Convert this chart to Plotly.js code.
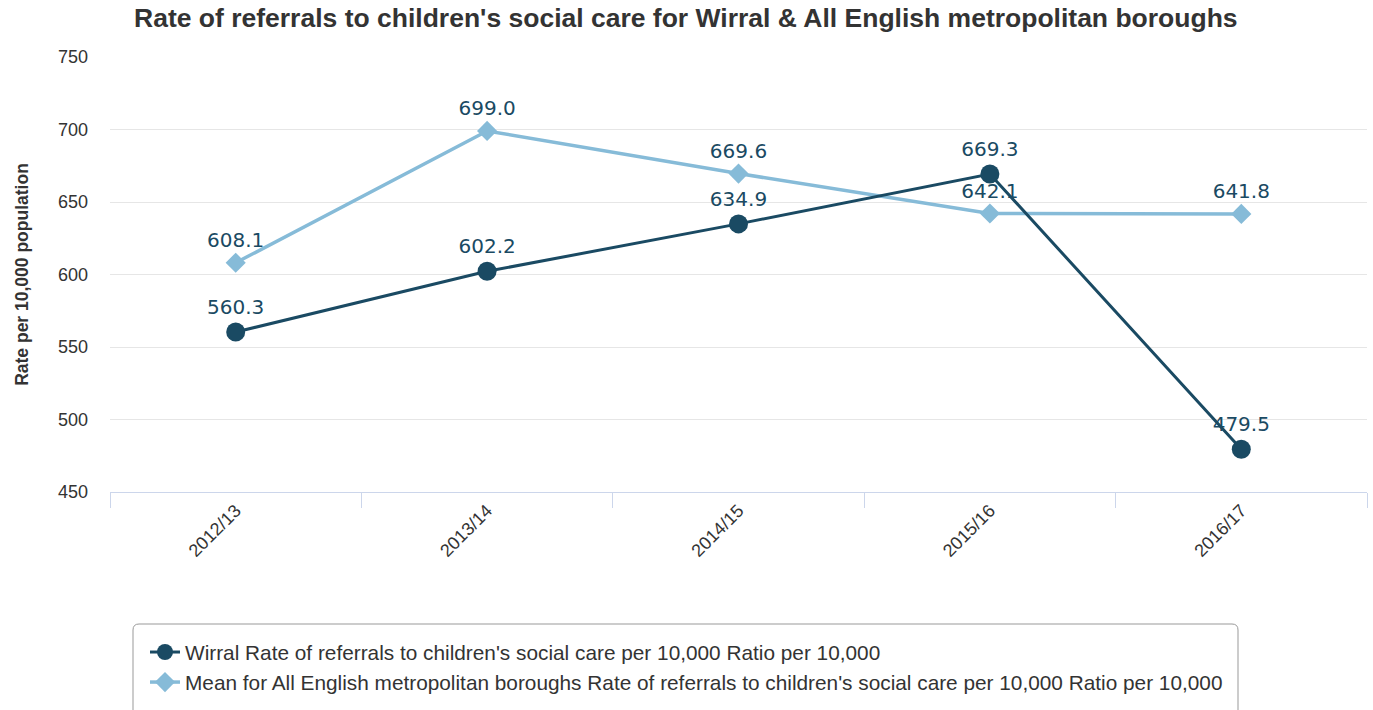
<!DOCTYPE html>
<html>
<head>
<meta charset="utf-8">
<script src="https://cdn.plot.ly/plotly-3.0.1.min.js"></script>
<style>html,body{margin:0;padding:0;background:#fff;}#chart{width:1373px;height:710px;}</style>
</head>
<body>
<div id="chart"></div>
<script>
var categories = ["2012/13", "2013/14", "2014/15", "2015/16", "2016/17"];
var wirralValues = [560.3, 602.2, 634.9, 669.3, 479.5];
var meanValues = [608.1, 699.0, 669.6, 642.1, 641.8];
var wirralName = "Wirral Rate of referrals to children's social care per 10,000 Ratio per 10,000";
var meanName = "Mean for All English metropolitan boroughs Rate of referrals to children's social care per 10,000 Ratio per 10,000";
var yTickVals = [450, 500, 550, 600, 650, 700, 750];

var W = 1373, H = 710;
var M = {l: 110, r: 6, t: 57, b: 218};
var plotW = W - M.l - M.r, plotH = H - M.t - M.b;
function px2x(px) { return (px - M.l) / plotW; }
function py2y(py) { return (H - M.b - py) / plotH; }

// rounded legend frame (pixel geometry converted to paper coords)
function roundedBox(l, t, r, b, rad) {
  var p = [];
  p.push("M" + px2x(l + rad) + "," + py2y(t));
  p.push("L" + px2x(r - rad) + "," + py2y(t));
  p.push("Q" + px2x(r) + "," + py2y(t) + " " + px2x(r) + "," + py2y(t + rad));
  p.push("L" + px2x(r) + "," + py2y(b - rad));
  p.push("Q" + px2x(r) + "," + py2y(b) + " " + px2x(r - rad) + "," + py2y(b));
  p.push("L" + px2x(l + rad) + "," + py2y(b));
  p.push("Q" + px2x(l) + "," + py2y(b) + " " + px2x(l) + "," + py2y(b - rad));
  p.push("L" + px2x(l) + "," + py2y(t + rad));
  p.push("Q" + px2x(l) + "," + py2y(t) + " " + px2x(l + rad) + "," + py2y(t));
  p.push("Z");
  return p.join(" ");
}

var labelFont = {family: "DejaVu Sans, Verdana, sans-serif", size: 20, color: "#1a4a63"};

var traces = [
  {
    x: categories, y: meanValues, name: meanName, type: "scatter", mode: "lines+markers+text",
    line: {color: "#86bbd8", width: 3.5},
    marker: {symbol: "diamond", size: 15.5, color: "#86bbd8"},
    text: meanValues.map(function(v){return v.toFixed(1);}),
    textposition: "top center", textfont: labelFont, cliponaxis: false, hoverinfo: "x+y"
  },
  {
    x: categories, y: wirralValues, name: wirralName, type: "scatter", mode: "lines+markers+text",
    line: {color: "#1a4a63", width: 3},
    marker: {symbol: "circle", size: 19, color: "#1a4a63"},
    text: wirralValues.map(function(v){return v.toFixed(1);}),
    textposition: "top center", textfont: labelFont, cliponaxis: false, hoverinfo: "x+y"
  }
];

var layout = {
  width: W, height: H,
  margin: M,
  paper_bgcolor: "#fff", plot_bgcolor: "#fff",
  title: {text: "<b>Rate of referrals to children's social care for Wirral &amp; All English metropolitan boroughs</b>",
          font: {family: "Liberation Sans, Arial, sans-serif", size: 26.5, color: "#333333"},
          x: 0.4995, xanchor: "center", xref: "container", y: 0.975, yanchor: "middle"},
  xaxis: {
    type: "category", range: [-0.5, 4.5], tickson: "boundaries",
    ticks: "outside", ticklen: 15, tickcolor: "#ccd6eb", tickwidth: 1,
    showline: true, linecolor: "#ccd6eb", linewidth: 1,
    showgrid: false, zeroline: false, tickangle: -45,
    tickfont: {family: "Liberation Sans, Arial, sans-serif", size: 18, color: "#333333"}
  },
  yaxis: {
    range: [450, 750], tickvals: yTickVals, showgrid: true, gridcolor: "#e6e6e6", gridwidth: 1,
    zeroline: false, showline: false, ticks: "", ticklabelstandoff: 21,
    tickfont: {family: "Liberation Sans, Arial, sans-serif", size: 18, color: "#333333"},
    title: {text: "<b>Rate per 10,000 population</b>", standoff: 24,
            font: {family: "Liberation Sans, Arial, sans-serif", size: 17.5, color: "#333333"}}
  },
  shapes: [
    {type: "path", xref: "paper", yref: "paper", path: roundedBox(133, 624, 1238, 716, 6),
     line: {color: "#999999", width: 1}, fillcolor: "rgba(0,0,0,0)", layer: "below"}
  ],
  showlegend: true,
  legend: {
    traceorder: "reversed",
    x: px2x(145), xanchor: "left", y: py2y(632), yanchor: "top",
    borderwidth: 0, bgcolor: "rgba(0,0,0,0)",
    font: {family: "Liberation Sans, Arial, sans-serif", size: 20.8, color: "#333333"},
    tracegroupgap: 0
  }
};

Plotly.newPlot("chart", traces, layout, {displayModeBar: false, staticPlot: true});
</script>
</body>
</html>
